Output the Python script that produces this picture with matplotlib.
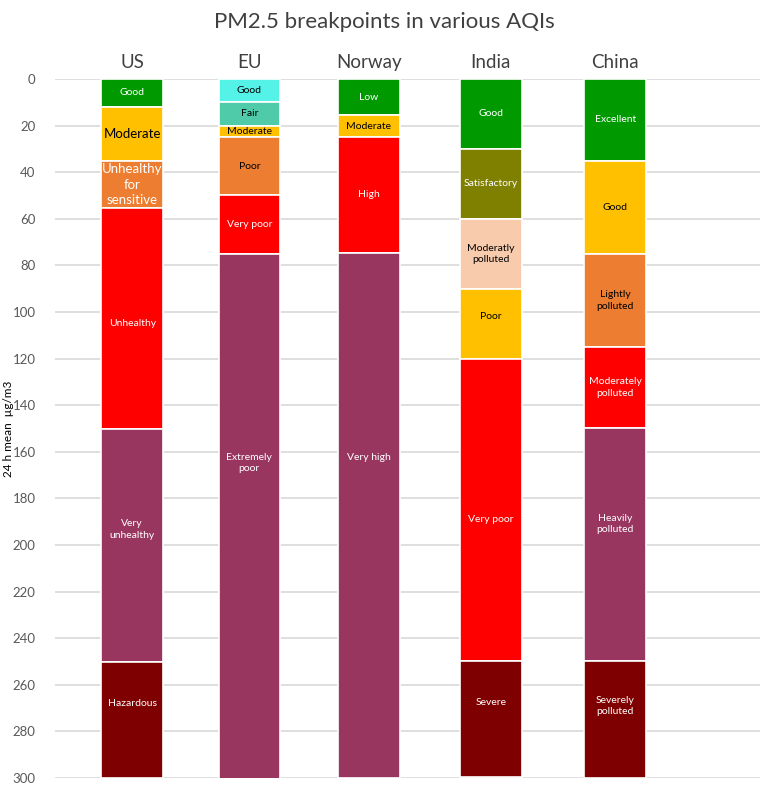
import matplotlib.pyplot as plt
import numpy as np

# AQI bands, upper breakpoints in ug/m3 (24 h mean PM2.5)
countries = ["US", "EU", "Norway", "India", "China"]

us_limits = [12, 35.4, 55.4, 150.4, 250.4, 300]
us_names = ["Good", "Moderate", "Unhealthy\nfor\nsensitive", "Unhealthy", "Very\nunhealthy", "Hazardous"]

eu_limits = [10, 20, 25, 50, 75, 300.5]
eu_names = ["Good", "Fair", "Moderate", "Poor", "Very poor", "Extremely\npoor"]

no_limits = [15.5, 25, 74.5, 300]
no_names = ["Low", "Moderate", "High", "Very high"]

in_limits = [30, 60, 90, 120, 250, 299.5]
in_names = ["Good", "Satisfactory", "Moderatly\npolluted", "Poor", "Very poor", "Severe"]

cn_limits = [35, 75, 115, 150, 250, 300]
cn_names = ["Excellent", "Good", "Lightly\npolluted", "Moderately\npolluted", "Heavily\npolluted", "Severely\npolluted"]

# styles
GREEN, YELLOW, ORANGE, RED, PURPLE, MAROON = "#009A00", "#FFC000", "#ED7D31", "#FF0000", "#993660", "#7F0000"
us_cols = [GREEN, YELLOW, ORANGE, RED, PURPLE, MAROON]
eu_cols = ["#55F2E8", "#50CBAA", YELLOW, ORANGE, RED, PURPLE]
no_cols = [GREEN, YELLOW, RED, PURPLE]
in_cols = [GREEN, "#808000", "#F8CBAD", YELLOW, RED, MAROON]
cn_cols = [GREEN, YELLOW, ORANGE, RED, PURPLE, MAROON]
dark_text = {YELLOW, "#55F2E8", "#50CBAA", "#F8CBAD"}

groups = [
    (us_limits, us_names, us_cols),
    (eu_limits, eu_names, eu_cols),
    (no_limits, no_names, no_cols),
    (in_limits, in_names, in_cols),
    (cn_limits, cn_names, cn_cols),
]

# label offsets from segment centre, as placed in the original
label_nudge = {(1, 5): -23, (2, 3): -25, (0, 4): -7, (4, 4): -9, (3, 4): 4,
               (0, 5): -7, (3, 5): -7, (4, 5): -6, (3, 3): -3, (0, 3): 2}

plt.rcParams['font.family'] = ['Lato', 'DejaVu Sans']

fig = plt.figure(figsize=(7.68, 7.86), dpi=100)
ax = fig.add_axes([0.0716, 0.0102, 0.918, 0.8893])

# bar centres (slightly uneven, as in the original layout)
xpos = np.array([0, 0.97, 1.96, 2.97, 4.0])
width = 0.51

for i, (limits, names, cols) in enumerate(groups):
    lower = 0
    for j, top in enumerate(limits):
        ax.bar(xpos[i], top - lower, bottom=lower, width=width, color=cols[j],
               edgecolor="white", linewidth=1.2, zorder=3)
        tc = "black" if cols[j] in dark_text else "white"
        if cols[j] == ORANGE:
            tc = "white" if i == 0 else "black"
        size = 7.5
        if i == 0 and j in (1, 2):
            size = 9.5
        ymid = (lower + top) / 2 + label_nudge.get((i, j), 0)
        ax.text(xpos[i], ymid, names[j], ha="center", va="center",
                color=tc, fontsize=size, linespacing=1.35, zorder=4)
        lower = top

ax.set_ylim(300, 0)
ax.set_xlim(-0.64, 5.2)
ax.set_yticks(np.arange(0, 301, 20))
ax.tick_params(axis="y", length=0, labelsize=9.5, labelcolor="#595959", pad=14)
ax.set_xticks([])
for s in ax.spines.values():
    s.set_visible(False)
ax.grid(axis="y", color="#D9D9D9", linewidth=1.2, zorder=0)
ax.set_axisbelow(True)
ax.set_ylabel("24 h mean  µg/m3", fontsize=8.5, color="black")
ax.yaxis.set_label_coords(-0.058, 0.5)

for i, c in enumerate(countries):
    ax.text(xpos[i], -3.5, c, ha="center", va="bottom", fontsize=13.5, color="#404040")

fig.text(0.5, 0.972, "PM2.5 breakpoints in various AQIs", ha="center", va="center",
         fontsize=16, color="#404040")

fig.savefig("out.png", dpi=100)
